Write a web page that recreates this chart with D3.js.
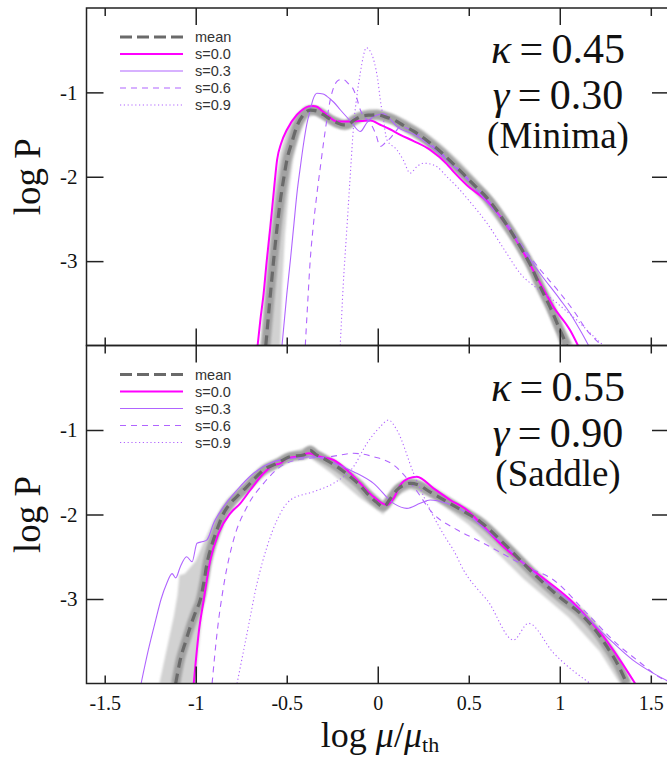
<!DOCTYPE html>
<html>
<head>
<meta charset="utf-8">
<script src="https://cdn.jsdelivr.net/npm/d3@7"></script>
<style>
  body { margin: 0; background: #fff; }
  svg { display: block; }
</style>
</head>
<body>
<svg id="chart" width="667" height="758"></svg>
<script>
// ---- axis ticks and legend entries ----
const xTickValues = [-1.5, -1, -0.5, 0, 0.5, 1, 1.5];
const xTickLabels = ["-1.5", "-1", "-0.5", "0", "0.5", "1", "1.5"];
const xMajorTicks = [-1, 0, 1];
const xMinorTicks = [-1.5, -0.5, 0.5, 1.5];
const yTickValues = [-1, -2, -3];
const yTickLabels = ["-1", "-2", "-3"];
const seriesNames = ["mean", "s=0.0", "s=0.3", "s=0.6", "s=0.9"];

// ---- upper panel: kappa = 0.45, gamma = 0.30 (minima) ----
const minimaMean = [[-0.615,-4.0],[-0.59,-3.4],[-0.572,-2.99],[-0.553,-2.6],[-0.535,-2.28],[-0.515,-2.0],[-0.499,-1.80],[-0.47,-1.58],[-0.444,-1.40],[-0.41,-1.27],[-0.371,-1.21],[-0.335,-1.22],[-0.298,-1.265],[-0.26,-1.32],[-0.224,-1.36],[-0.19,-1.385],[-0.169,-1.385],[-0.13,-1.33],[-0.096,-1.29],[-0.05,-1.27],[-0.004,-1.265],[0.04,-1.29],[0.087,-1.325],[0.14,-1.39],[0.197,-1.46],[0.27,-1.57],[0.343,-1.70],[0.416,-1.85],[0.471,-1.97],[0.53,-2.1],[0.6,-2.25],[0.68,-2.48],[0.783,-2.83],[0.84,-3.05],[0.892,-3.30],[0.95,-3.56],[1.002,-3.82],[1.039,-4.0]];
const minimaS00 = [[-0.66,-4.0],[-0.645,-3.7],[-0.627,-3.385],[-0.61,-3.0],[-0.59,-2.59],[-0.57,-2.15],[-0.553,-1.80],[-0.53,-1.6],[-0.499,-1.443],[-0.444,-1.265],[-0.41,-1.2],[-0.38,-1.166],[-0.355,-1.16],[-0.334,-1.17],[-0.305,-1.22],[-0.279,-1.265],[-0.224,-1.345],[-0.151,-1.345],[-0.09,-1.34],[-0.041,-1.333],[0.014,-1.384],[0.07,-1.44],[0.124,-1.503],[0.2,-1.58],[0.288,-1.681],[0.38,-1.85],[0.416,-1.94],[0.49,-2.10],[0.6,-2.29],[0.7,-2.55],[0.783,-2.83],[0.874,-3.19],[0.966,-3.545],[1.057,-3.82],[1.10,-4.0]];
const minimaS03 = [[-0.526,-4.0],[-0.5,-3.4],[-0.48,-2.99],[-0.46,-2.55],[-0.444,-2.2],[-0.425,-1.88],[-0.407,-1.60],[-0.39,-1.38],[-0.371,-1.21],[-0.355,-1.08],[-0.334,-1.01],[-0.3,-1.02],[-0.279,-1.047],[-0.24,-1.12],[-0.206,-1.206],[-0.15,-1.34],[-0.096,-1.464],[-0.06,-1.36],[-0.023,-1.285],[0.032,-1.253],[0.07,-1.32],[0.105,-1.404],[0.2,-1.5],[0.3,-1.65],[0.4,-1.84],[0.5,-2.05],[0.6,-2.3],[0.7,-2.55],[0.8,-2.87],[0.9,-3.17],[1.0,-3.45],[1.057,-3.62],[1.12,-3.85],[1.158,-4.0]];
const minimaS06 = [[-0.398,-4.0],[-0.385,-3.5],[-0.371,-2.99],[-0.355,-2.6],[-0.334,-2.2],[-0.315,-1.88],[-0.298,-1.60],[-0.28,-1.33],[-0.261,-1.09],[-0.24,-0.93],[-0.224,-0.87],[-0.205,-0.85],[-0.188,-0.849],[-0.16,-0.9],[-0.133,-0.968],[-0.115,-1.07],[-0.096,-1.206],[-0.07,-1.3],[-0.041,-1.364],[-0.01,-1.5],[0.014,-1.642],[0.04,-1.6],[0.069,-1.542],[0.1,-1.46],[0.124,-1.404],[0.2,-1.47],[0.3,-1.63],[0.4,-1.82],[0.5,-2.03],[0.6,-2.26],[0.7,-2.52],[0.819,-2.9],[0.9,-3.12],[1.002,-3.38],[1.08,-3.6],[1.149,-3.82],[1.231,-4.0]];
const minimaS09 = [[-0.206,-4.0],[-0.19,-3.3],[-0.169,-2.59],[-0.15,-1.95],[-0.133,-1.404],[-0.115,-1.05],[-0.096,-0.77],[-0.08,-0.58],[-0.063,-0.47],[-0.045,-0.5],[-0.023,-0.611],[0.0,-0.85],[0.014,-1.087],[0.03,-1.3],[0.05,-1.562],[0.105,-1.681],[0.14,-1.8],[0.178,-1.958],[0.215,-1.88],[0.252,-1.84],[0.29,-1.85],[0.325,-1.88],[0.38,-2.0],[0.435,-2.117],[0.5,-2.28],[0.6,-2.55],[0.7,-2.88],[0.783,-3.147],[0.88,-3.33],[0.966,-3.465],[1.03,-3.58],[1.094,-3.70],[1.17,-3.86],[1.24,-4.0]];
const minimaBandHi = [[-0.645,-4.0],[-0.615,-3.2],[-0.59,-2.6],[-0.565,-2.1],[-0.535,-1.72],[-0.5,-1.45],[-0.45,-1.27],[-0.4,-1.17],[-0.36,-1.15],[-0.3,-1.2],[-0.24,-1.29],[-0.18,-1.33],[-0.12,-1.24],[-0.05,-1.2],[0.0,-1.2],[0.08,-1.25],[0.15,-1.32],[0.25,-1.45],[0.35,-1.62],[0.45,-1.82],[0.55,-2.05],[0.65,-2.3],[0.75,-2.62],[0.85,-3.0],[0.95,-3.45],[1.02,-3.8],[1.075,-4.0]];
const minimaBandLo = [[-0.535,-4.0],[-0.525,-3.3],[-0.51,-2.7],[-0.49,-2.2],[-0.465,-1.8],[-0.43,-1.5],[-0.39,-1.3],[-0.35,-1.27],[-0.3,-1.32],[-0.24,-1.41],[-0.18,-1.45],[-0.13,-1.4],[-0.08,-1.34],[0.0,-1.33],[0.08,-1.38],[0.15,-1.47],[0.25,-1.6],[0.35,-1.77],[0.45,-1.98],[0.55,-2.22],[0.65,-2.5],[0.75,-2.8],[0.85,-3.18],[0.93,-3.55],[0.98,-3.85],[1.0,-4.0]];

// ---- lower panel: kappa = 0.55, gamma = 0.90 (saddle) ----
const saddleMean = [[-1.11,-4.0],[-1.085,-3.72],[-1.055,-3.5],[-1.03,-3.33],[-1.0,-3.15],[-0.975,-3.01],[-0.955,-2.8],[-0.938,-2.58],[-0.91,-2.35],[-0.883,-2.18],[-0.85,-2.0],[-0.81,-1.868],[-0.77,-1.78],[-0.718,-1.67],[-0.67,-1.56],[-0.627,-1.473],[-0.553,-1.394],[-0.48,-1.316],[-0.407,-1.296],[-0.371,-1.24],[-0.34,-1.29],[-0.316,-1.316],[-0.27,-1.37],[-0.224,-1.434],[-0.151,-1.553],[-0.1,-1.65],[-0.059,-1.749],[-0.01,-1.85],[0.032,-1.908],[0.07,-1.81],[0.105,-1.71],[0.14,-1.655],[0.178,-1.631],[0.23,-1.655],[0.27,-1.71],[0.38,-1.848],[0.47,-1.96],[0.563,-2.085],[0.7,-2.36],[0.874,-2.736],[1.0,-2.98],[1.112,-3.17],[1.2,-3.38],[1.259,-3.565],[1.32,-3.78],[1.368,-4.0]];
const saddleS00 = [[-1.011,-4.0],[-0.998,-3.7],[-0.984,-3.406],[-0.956,-3.01],[-0.92,-2.54],[-0.874,-2.22],[-0.81,-1.986],[-0.755,-1.868],[-0.70,-1.71],[-0.627,-1.512],[-0.572,-1.414],[-0.535,-1.394],[-0.499,-1.335],[-0.444,-1.316],[-0.38,-1.276],[-0.316,-1.316],[-0.243,-1.355],[-0.169,-1.473],[-0.096,-1.631],[-0.023,-1.79],[0.05,-1.888],[0.087,-1.809],[0.124,-1.651],[0.169,-1.572],[0.215,-1.553],[0.306,-1.69],[0.398,-1.828],[0.49,-1.947],[0.563,-2.1],[0.69,-2.38],[0.874,-2.696],[1.057,-3.01],[1.15,-3.22],[1.24,-3.446],[1.33,-3.72],[1.414,-4.0]];
const saddleS03 = [[-1.30,-4.0],[-1.26,-3.6],[-1.22,-3.25],[-1.19,-3.0],[-1.16,-2.82],[-1.13,-2.7],[-1.11,-2.75],[-1.085,-2.62],[-1.05,-2.50],[-1.02,-2.56],[-0.993,-2.34],[-0.96,-2.32],[-0.938,-2.30],[-0.901,-2.10],[-0.847,-1.908],[-0.773,-1.71],[-0.682,-1.512],[-0.572,-1.375],[-0.48,-1.335],[-0.353,-1.316],[-0.261,-1.375],[-0.133,-1.493],[-0.023,-1.631],[0.087,-1.868],[0.16,-1.927],[0.233,-1.868],[0.288,-1.828],[0.38,-1.868],[0.49,-1.986],[0.563,-2.124],[0.7,-2.37],[0.874,-2.72],[1.05,-3.02],[1.24,-3.41],[1.4,-3.72],[1.515,-3.88],[1.62,-4.0]];
const saddleS06 = [[-0.91,-4.0],[-0.883,-3.406],[-0.847,-2.85],[-0.792,-2.30],[-0.718,-1.908],[-0.627,-1.631],[-0.535,-1.434],[-0.426,-1.347],[-0.261,-1.316],[-0.133,-1.276],[-0.023,-1.316],[0.087,-1.414],[0.197,-1.671],[0.3,-1.98],[0.435,-2.18],[0.563,-2.32],[0.82,-2.62],[0.966,-2.775],[1.149,-3.17],[1.332,-3.565],[1.423,-3.72],[1.551,-3.93],[1.62,-4.0]];
const saddleS09 = [[-0.773,-4.0],[-0.718,-3.406],[-0.663,-2.814],[-0.608,-2.38],[-0.553,-2.065],[-0.48,-1.828],[-0.353,-1.73],[-0.243,-1.631],[-0.133,-1.434],[-0.059,-1.157],[0.014,-0.961],[0.059,-0.882],[0.105,-1.0],[0.197,-1.512],[0.288,-1.947],[0.38,-2.30],[0.416,-2.42],[0.471,-2.657],[0.563,-2.92],[0.6,-3.01],[0.746,-3.485],[0.828,-3.288],[0.966,-3.64],[1.167,-4.0]];
const saddleBandHi = [[-1.2,-4.0],[-1.16,-3.6],[-1.12,-3.2],[-1.1,-2.95],[-1.09,-2.72],[-1.06,-2.7],[-1.0,-2.55],[-0.95,-2.3],[-0.9,-2.06],[-0.83,-1.86],[-0.75,-1.69],[-0.63,-1.45],[-0.5,-1.28],[-0.37,-1.19],[-0.25,-1.36],[-0.1,-1.6],[0.03,-1.85],[0.1,-1.66],[0.18,-1.58],[0.3,-1.66],[0.5,-1.94],[0.8,-2.58],[1.1,-3.12],[1.3,-3.64],[1.39,-4.0]];
const saddleBandLo = [[-1.0,-4.0],[-0.985,-3.6],[-0.965,-3.2],[-0.94,-2.8],[-0.9,-2.38],[-0.85,-2.1],[-0.75,-1.8],[-0.63,-1.55],[-0.5,-1.38],[-0.37,-1.33],[-0.25,-1.52],[-0.1,-1.8],[0.03,-2.0],[0.1,-1.78],[0.18,-1.7],[0.3,-1.8],[0.5,-2.12],[0.8,-2.76],[1.05,-3.22],[1.22,-3.62],[1.33,-4.0]];

const panelData = [
  { kappa: "0.45", gamma: "0.30", kind: "(Minima)", mean: minimaMean,
    runs: [minimaS00, minimaS03, minimaS06, minimaS09], bandHi: minimaBandHi, bandLo: minimaBandLo },
  { kappa: "0.55", gamma: "0.90", kind: "(Saddle)", mean: saddleMean,
    runs: [saddleS00, saddleS03, saddleS06, saddleS09], bandHi: saddleBandHi, bandLo: saddleBandLo }
];

// ---- layout ----
const panelBox = [{ top: 8, bottom: 345.5 }, { top: 345.5, bottom: 683.5 }];
const plotLeft = 86.5, plotRight = 669;
const serif = "'Liberation Serif','Times New Roman',Times,serif";
const sans = "'Liberation Sans',Arial,Helvetica,sans-serif";
const violet = "#b064ff";
const runStyles = [
  { stroke: "#ff00ff", width: 2, dash: null },
  { stroke: violet, width: 1.1, dash: null },
  { stroke: violet, width: 1.1, dash: "6,5" },
  { stroke: violet, width: 1.1, dash: "1.2,2.6" }
];
const meanStyle = { stroke: "#6a6a6a", width: 3.2, dash: "10,6" };

const svg = d3.select("#chart");
const defs = svg.append("defs");
defs.append("filter").attr("id", "soft").attr("x", "-10%").attr("y", "-10%")
  .attr("width", "120%").attr("height", "120%")
  .append("feGaussianBlur").attr("stdDeviation", 1.3);

const x = d3.scaleLinear().domain([-1.6, 1.6]).range([plotLeft, plotRight]);

panelData.forEach((p, i) => {
  const box = panelBox[i];
  const y = d3.scaleLinear().domain([-4, 0]).range([box.bottom, box.top]);
  const g = svg.append("g");

  const clipId = "clip" + i;
  defs.append("clipPath").attr("id", clipId).append("rect")
    .attr("x", plotLeft).attr("y", box.top)
    .attr("width", plotRight - plotLeft).attr("height", box.bottom - box.top);

  const line = d3.line().x(d => x(d[0])).y(d => y(d[1])).curve(d3.curveMonotoneX);
  const ring = d3.line().x(d => x(d[0])).y(d => y(d[1])).curve(d3.curveLinearClosed);

  const plot = g.append("g").attr("clip-path", `url(#${clipId})`);

  // spread of the realisations around the mean
  plot.append("path")
    .attr("d", ring(p.bandHi.concat(p.bandLo.slice().reverse())))
    .attr("fill", "#d2d2d2").attr("filter", "url(#soft)");
  plot.append("path")
    .attr("d", line(p.mean))
    .attr("fill", "none").attr("stroke", "#a2a2a2").attr("stroke-width", 9)
    .attr("stroke-linejoin", "round").attr("filter", "url(#soft)");

  // individual source sizes
  p.runs.forEach((run, k) => {
    const st = runStyles[k];
    plot.append("path")
      .attr("d", line(run))
      .attr("fill", "none").attr("stroke", st.stroke).attr("stroke-width", st.width)
      .attr("stroke-dasharray", st.dash);
  });

  // mean curve
  plot.append("path")
    .attr("d", line(p.mean))
    .attr("fill", "none").attr("stroke", meanStyle.stroke).attr("stroke-width", meanStyle.width)
    .attr("stroke-dasharray", meanStyle.dash);

  // frame
  g.append("rect")
    .attr("x", plotLeft).attr("y", box.top)
    .attr("width", plotRight - plotLeft).attr("height", box.bottom - box.top)
    .attr("fill", "none").attr("stroke", "#222").attr("stroke-width", 1.5);

  // inward ticks on all four sides
  const tickAxis = (axis, transform) => {
    const a = g.append("g").attr("transform", transform).call(axis);
    a.select(".domain").remove();
    a.selectAll(".tick line").attr("stroke", "#222").attr("stroke-width", 1.5);
    a.selectAll(".tick text").remove();
  };
  tickAxis(d3.axisBottom(x).tickValues(xMajorTicks).tickSize(-17), `translate(0,${box.bottom})`);
  tickAxis(d3.axisBottom(x).tickValues(xMinorTicks).tickSize(-8), `translate(0,${box.bottom})`);
  tickAxis(d3.axisTop(x).tickValues(xMajorTicks).tickSize(-17), `translate(0,${box.top})`);
  tickAxis(d3.axisTop(x).tickValues(xMinorTicks).tickSize(-8), `translate(0,${box.top})`);
  tickAxis(d3.axisLeft(y).tickValues(yTickValues).tickSize(-17), `translate(${plotLeft},0)`);
  tickAxis(d3.axisRight(y).tickValues(yTickValues).tickSize(-17), `translate(${plotRight},0)`);

  // y tick labels
  const yl = g.append("g").attr("transform", `translate(${plotLeft},0)`)
    .call(d3.axisLeft(y).tickValues(yTickValues).tickSize(0).tickPadding(9)
      .tickFormat((d, j) => yTickLabels[j]));
  yl.select(".domain").remove();
  yl.selectAll("text").attr("font-family", serif).attr("font-size", 21).attr("fill", "#111");

  // y axis title
  g.append("text")
    .attr("transform", `translate(40,${(box.top + box.bottom) / 2}) rotate(-90)`)
    .attr("text-anchor", "middle").attr("font-family", serif).attr("font-size", 37)
    .attr("fill", "#111").text("log P");

  // legend
  const legend = g.append("g").attr("transform", `translate(120,${box.top + 29})`);
  const legendStyles = [meanStyle].concat(runStyles);
  seriesNames.forEach((name, k) => {
    const st = legendStyles[k];
    const row = legend.append("g").attr("transform", `translate(0,${k * 17})`);
    row.append("line").attr("x1", 0).attr("x2", 63).attr("y1", 0).attr("y2", 0)
      .attr("stroke", st.stroke).attr("stroke-width", k === 0 ? 3 : st.width)
      .attr("stroke-dasharray", k === 0 ? "12,5" : st.dash);
    row.append("text").attr("x", 75).attr("y", 0).attr("dy", "0.36em")
      .attr("font-family", sans).attr("font-size", 14.5).attr("fill", "#333").text(name);
  });

  // parameter annotation
  const cx = 558;
  const ann = g.append("g").attr("font-family", serif).attr("fill", "#111").attr("text-anchor", "middle");
  const t1 = ann.append("text").attr("x", cx).attr("y", box.top + 55).attr("font-size", 42);
  t1.append("tspan").attr("font-style", "italic").text("κ");
  t1.append("tspan").text("\u2009=\u2009" + p.kappa);
  const t2 = ann.append("text").attr("x", cx).attr("y", box.top + 101).attr("font-size", 42);
  t2.append("tspan").attr("font-style", "italic").text("γ");
  t2.append("tspan").text("\u2009=\u2009" + p.gamma);
  ann.append("text").attr("x", cx).attr("y", box.top + 140).attr("font-size", 37).text(p.kind);
});

// x tick labels under the lower panel
const xl = svg.append("g").attr("transform", `translate(0,${panelBox[1].bottom})`)
  .call(d3.axisBottom(x).tickValues(xTickValues).tickSize(0).tickPadding(12)
    .tickFormat((d, j) => xTickLabels[j]));
xl.select(".domain").remove();
xl.selectAll("text").attr("font-family", serif).attr("font-size", 20).attr("fill", "#111");

// x axis title
const xt = svg.append("text").attr("x", 380).attr("y", 747).attr("text-anchor", "middle")
  .attr("font-family", serif).attr("font-size", 36).attr("fill", "#111");
xt.append("tspan").text("log ");
xt.append("tspan").attr("font-style", "italic").text("μ");
xt.append("tspan").text("/");
xt.append("tspan").attr("font-style", "italic").text("μ");
xt.append("tspan").attr("font-size", 22).attr("dy", 5).text("th");
</script>
</body>
</html>
